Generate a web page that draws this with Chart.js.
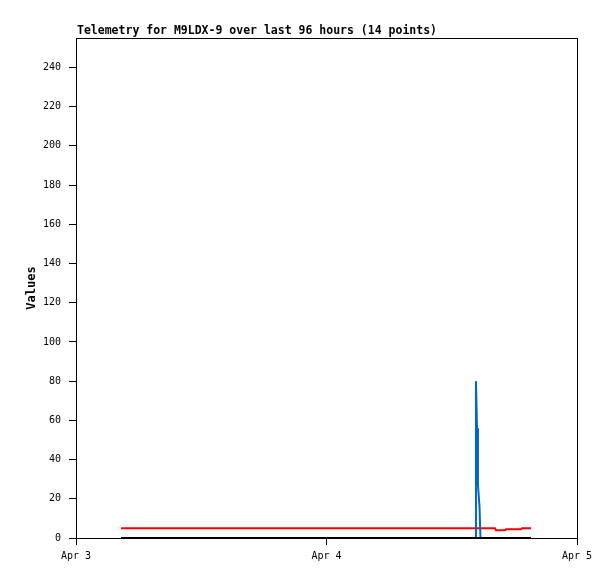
<!DOCTYPE html>
<html>
<head>
<meta charset="utf-8">
<title>Telemetry</title>
<script src="https://cdn.jsdelivr.net/npm/chart.js@4.4.0/dist/chart.umd.min.js"></script>
<style>
  html, body { margin: 0; padding: 0; background: #fff; }
  canvas { display: block; }
</style>
</head>
<body>
<canvas id="telemetry" width="615" height="579"></canvas>
<script>
// Data (x = hours since Apr 3 00:00)
const chartTitle = "Telemetry for M9LDX-9 over last 96 hours (14 points)";
const hours = [4.31, 38.28, 38.32, 38.42, 38.51, 38.66, 38.75, 40.14, 40.24, 41.1, 41.2, 42.63, 42.73, 43.59];
const redValues = [5, 5, 5, 5, 5, 5, 5, 5, 4, 4, 4.5, 4.5, 5, 5];
const blueValues = [0, 0, 80, 56, 27, 16, 0, 0, 0, 0, 0, 0, 0, 0];
const blackValues = [0, 0, 0, 0, 0, 0, 0, 0, 0, 0, 0, 0, 0, 0];
const xTickLabels = ["Apr 3", "Apr 4", "Apr 5"];

const MONO = "'DejaVu Sans Mono', 'Liberation Mono', monospace";

// Pair the x hours with a series
const toPoints = (values) => hours.map((h, i) => ({ x: h, y: values[i] }));

// Draws the plot frame (top/right edges) and the left-aligned title
const framePlugin = {
  id: "frame",
  beforeDraw(chart) {
    const ctx = chart.ctx;
    ctx.save();
    ctx.fillStyle = "#fff";
    ctx.fillRect(0, 0, chart.width, chart.height);
    ctx.restore();
  },
  afterDraw(chart) {
    const { ctx, chartArea } = chart;
    ctx.save();
    ctx.strokeStyle = "#000";
    ctx.lineWidth = 1;
    ctx.strokeRect(chartArea.left + 0.5, chartArea.top + 0.5,
      chartArea.right - chartArea.left, chartArea.bottom - chartArea.top);
    ctx.fillStyle = "#000";
    ctx.font = "bold 11.5px " + MONO;
    ctx.textBaseline = "alphabetic";
    ctx.textAlign = "left";
    ctx.fillText(chartTitle, chartArea.left + 1, chartArea.top - 4);
    ctx.restore();
  },
};

const lineStyle = {
  borderWidth: 2,
  pointRadius: 0,
  tension: 0,
  fill: false,
};

new Chart(document.getElementById("telemetry"), {
  type: "line",
  data: {
    datasets: [
      { ...lineStyle, label: "black", data: toPoints(blackValues), borderColor: "#000000", order: 0 },
      { ...lineStyle, label: "blue", data: toPoints(blueValues), borderColor: "#0066cc", order: 1 },
      { ...lineStyle, label: "red", data: toPoints(redValues), borderColor: "#ff0000", order: 2 },
    ],
  },
  options: {
    responsive: false,
    animation: false,
    layout: { padding: { top: 38, right: 38, left: 0, bottom: 0 } },
    plugins: {
      legend: { display: false },
      tooltip: { enabled: false },
      title: { display: false },
    },
    scales: {
      x: {
        type: "linear",
        min: 0,
        max: 48,
        ticks: {
          stepSize: 24,
          autoSkip: false,
          maxRotation: 0,
          color: "#000",
          padding: 5,
          font: { family: MONO, size: 10 },
          callback: (value) => xTickLabels[value / 24],
        },
        grid: { drawOnChartArea: false, drawTicks: true, tickLength: 7, color: "#000" },
        border: { display: true, color: "#000", width: 1 },
        afterFit: (scale) => { scale.height = 41; },
      },
      y: {
        min: 0,
        max: 255,
        ticks: {
          stepSize: 20,
          includeBounds: false,
          color: "#000",
          padding: 8,
          font: { family: MONO, size: 10 },
        },
        title: {
          display: true,
          text: "Values",
          color: "#000",
          font: { family: MONO, size: 12, weight: "bold" },
          padding: { top: 25, bottom: 0 },
        },
        grid: { drawOnChartArea: false, drawTicks: true, tickLength: 7, color: "#000" },
        border: { display: true, color: "#000", width: 1 },
        afterFit: (scale) => { scale.width = 76; },
      },
    },
  },
  plugins: [framePlugin],
});
</script>
</body>
</html>
